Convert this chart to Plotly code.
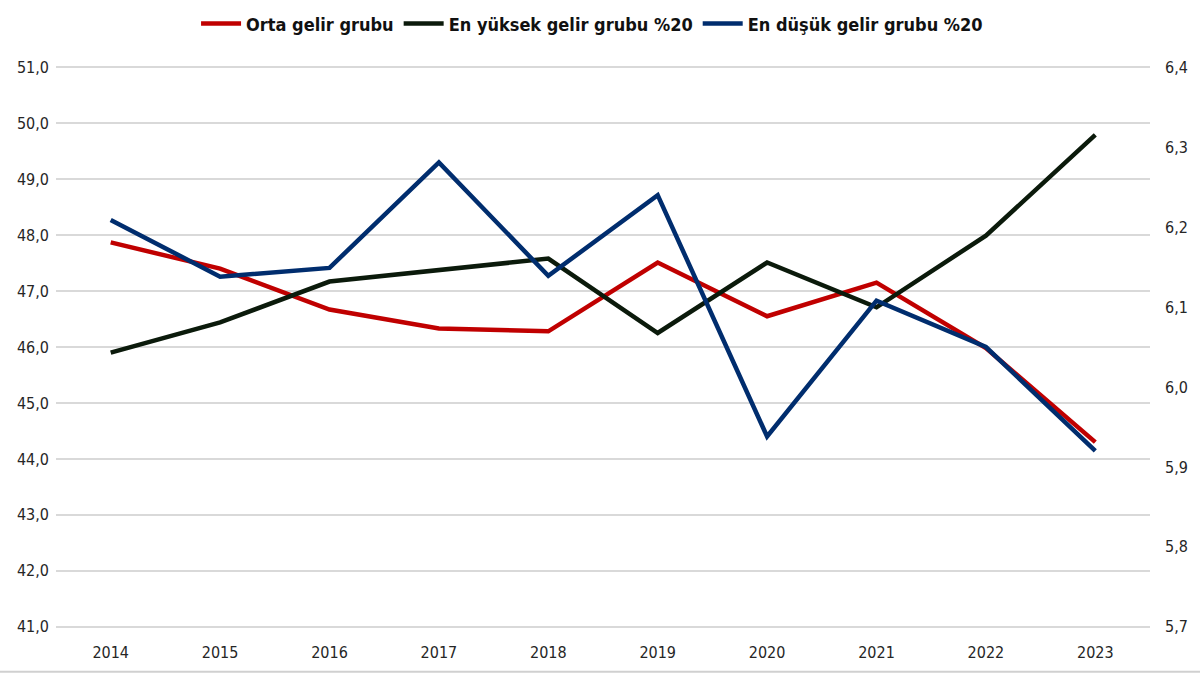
import plotly.graph_objects as go

years = ["2014", "2015", "2016", "2017", "2018", "2019", "2020", "2021", "2022", "2023"]
orta = [47.87, 47.40, 46.67, 46.33, 46.28, 47.51, 46.55, 47.15, 45.98, 44.30]
en_yuksek = [45.90, 46.44, 47.17, 47.38, 47.58, 46.25, 47.51, 46.71, 47.99, 49.79]
en_dusuk = [6.209, 6.138, 6.149, 6.281, 6.139, 6.240, 5.938, 6.108, 6.050, 5.920]

names = ["Orta gelir grubu", "En yüksek gelir grubu %20", "En düşük gelir grubu %20"]
colors = ["#C00000", "#0B1A0B", "#002D6E"]

FONT = "DejaVu Sans Condensed, Liberation Sans Narrow, Arial Narrow, sans-serif"

fig = go.Figure()
fig.add_trace(go.Scatter(x=years, y=orta, name=names[0], mode="lines",
                         line=dict(color=colors[0], width=4.5)))
fig.add_trace(go.Scatter(x=years, y=en_yuksek, name=names[1], mode="lines",
                         line=dict(color=colors[1], width=4.5)))
fig.add_trace(go.Scatter(x=years, y=en_dusuk, name=names[2], mode="lines",
                         line=dict(color=colors[2], width=4.5), yaxis="y2"))

eps = 0.004
fig.update_layout(
    width=1200, height=676,
    margin=dict(l=56, r=50, t=65, b=47, autoexpand=False),
    paper_bgcolor="white", plot_bgcolor="white",
    separators=",.",
    font=dict(family=FONT, size=16, color="#262626"),
    showlegend=True,
    legend=dict(orientation="h", x=0.49, xanchor="center", y=1.073, yanchor="middle",
                font=dict(family=FONT, size=18, color="#111111", weight="bold"),
                itemwidth=40, traceorder="normal", tracegroupgap=0),
    xaxis=dict(type="category", range=[-0.5, 9.5], showgrid=False, showline=False,
               ticks="", tickfont=dict(size=16), ticklabelstandoff=12),
    yaxis=dict(range=[41 - eps * 10, 51 + eps * 10], tickvals=list(range(41, 52)),
               tickformat=".1f", showgrid=True,
               gridcolor="#D9D9D9", gridwidth=1.5, zeroline=False, showline=False,
               ticks="", tickfont=dict(size=16), ticklabelstandoff=6),
    yaxis2=dict(range=[5.7 - eps * 0.7, 6.4 + eps * 0.7],
                tickvals=[5.7, 5.8, 5.9, 6.0, 6.1, 6.2, 6.3, 6.4],
                tickformat=".1f", overlaying="y",
                side="right", showgrid=False, zeroline=False, showline=False,
                ticks="", tickfont=dict(size=16), ticklabelstandoff=14),
    shapes=[dict(type="line", xref="paper", yref="paper", x0=-0.06, x1=1.06,
                 y0=-0.076, y1=-0.076, line=dict(color="#D0D0D0", width=2))],
)

fig.write_html("out.html", config={"displayModeBar": False},
               post_script="document.body.style.margin='0';document.body.style.padding='0';")
